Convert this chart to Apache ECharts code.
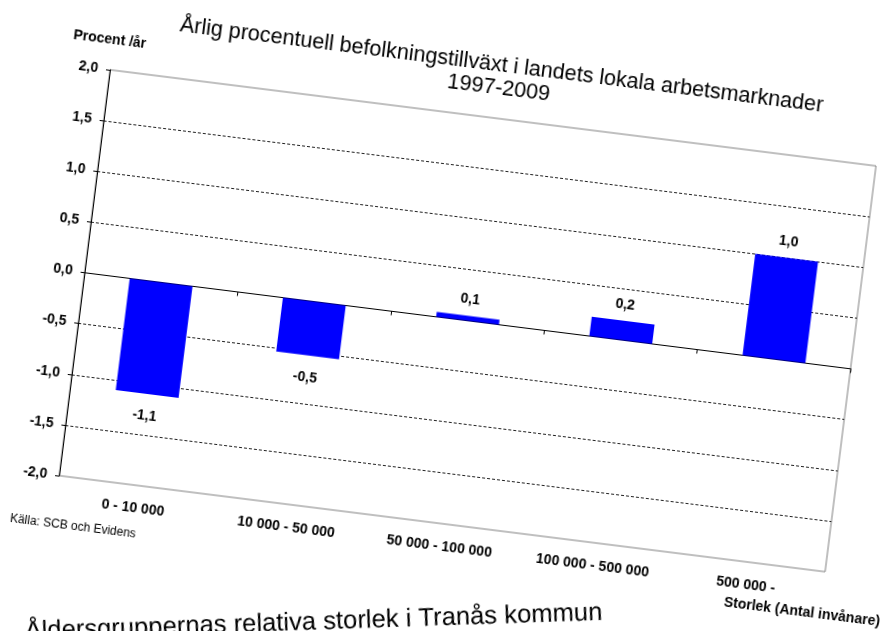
<!DOCTYPE html>
<html><head><meta charset="utf-8">
<script src="https://cdn.jsdelivr.net/npm/echarts@6/dist/echarts.min.js"></script>
<style>
html,body{margin:0;padding:0;width:883px;height:631px;overflow:hidden;background:#fff;}
#chart{position:absolute;left:0;top:0;width:1000px;height:760px;transform:rotate(7.15deg);transform-origin:441.5px 315.5px;}
</style></head><body><div id="chart"></div>
<script>
const titleLines = ['Årlig procentuell befolkningstillväxt i landets lokala arbetsmarknader', '1997-2009'];
const categories = ['0 - 10 000', '10 000 - 50 000', '50 000 - 100 000', '100 000 - 500 000', '500 000 -'];
const growth = [-1.1, -0.53, 0.05, 0.19, 1.0];
const yMin = -2, yMax = 2, yStep = 0.5;
const yName = 'Procent /år';
const xName = 'Storlek (Antal invånare)';
const sourceText = 'Källa: SCB och Evidens';
const nextHeading = 'Åldersgruppernas relativa storlek i Tranås kommun';

const FF = "'Liberation Sans', Arial, sans-serif";
const fmt = v => (Math.round(v * 10) / 10).toFixed(1).replace('.', ',');

const chart = echarts.init(document.getElementById('chart'), null, {renderer: 'canvas'});
chart.setOption({
  animation: false,
  backgroundColor: '#fff',
  grid: {left: 82, top: 113, width: 772, height: 409, show: true, borderColor: '#808080', borderWidth: 1, backgroundColor: 'transparent'},
  xAxis: [{
    type: 'category', data: categories, position: 'bottom',
    axisLine: {show: false, onZero: false}, axisTick: {show: false},
    axisLabel: {color: '#000', fontFamily: FF, fontWeight: 'bold', fontSize: 14, margin: 16, interval: 0},
    splitLine: {show: false}
  }, {
    type: 'category', data: categories, position: 'bottom',
    axisLine: {show: true, onZero: true, lineStyle: {color: '#000', width: 1}},
    axisTick: {show: true, length: 4, lineStyle: {color: '#000'}},
    axisLabel: {show: false}, splitLine: {show: false}
  }],
  yAxis: {
    type: 'value', min: yMin, max: yMax, interval: yStep,
    axisLine: {show: true, lineStyle: {color: '#000', width: 1}},
    axisTick: {show: true, length: 4, lineStyle: {color: '#000'}},
    axisLabel: {color: '#000', fontFamily: FF, fontWeight: 'bold', fontSize: 14, margin: 12, formatter: fmt},
    splitLine: {show: true, showMinLine: false, showMaxLine: false, lineStyle: {color: '#222', type: [3, 2], width: 1}}
  },
  series: [{
    type: 'bar', xAxisIndex: 0, barWidth: '41%',
    itemStyle: {color: '#0000FF'},
    data: growth.map(v => ({value: v, label: {position: v < 0 ? 'bottom' : 'top', distance: v < 0 ? 15 : 9}})),
    label: {show: true, color: '#000', fontFamily: FF, fontWeight: 'bold', fontSize: 14, formatter: p => fmt(p.value)}
  }],
  graphic: [
    {type: 'text', x: 470, y: 60.5, style: {text: titleLines[0], font: "21.6px " + FF, fill: '#000', textAlign: 'center', textVerticalAlign: 'middle'}},
    {type: 'text', x: 470, y: 83, style: {text: titleLines[1], font: "21.6px " + FF, fill: '#000', textAlign: 'center', textVerticalAlign: 'middle'}},
    {type: 'text', x: 78, y: 83, style: {text: yName, font: "bold 14px " + FF, fill: '#000', textAlign: 'center', textVerticalAlign: 'middle'}},
    {type: 'text', x: 836, y: 565, style: {text: xName, font: "bold 14px " + FF, fill: '#000', textAlign: 'center', textVerticalAlign: 'middle'}},
    {type: 'text', x: 102, y: 571, style: {text: sourceText, font: "12px " + FF, fill: '#000', textAlign: 'center', textVerticalAlign: 'middle'}},
    {type: 'text', x: 68.7, y: 690.3, rotation: 0.158, style: {x: 0, y: -9, text: nextHeading, font: "25.6px " + FF, fill: '#000', textAlign: 'left', textVerticalAlign: 'middle'}}
  ]
});
</script></body></html>
